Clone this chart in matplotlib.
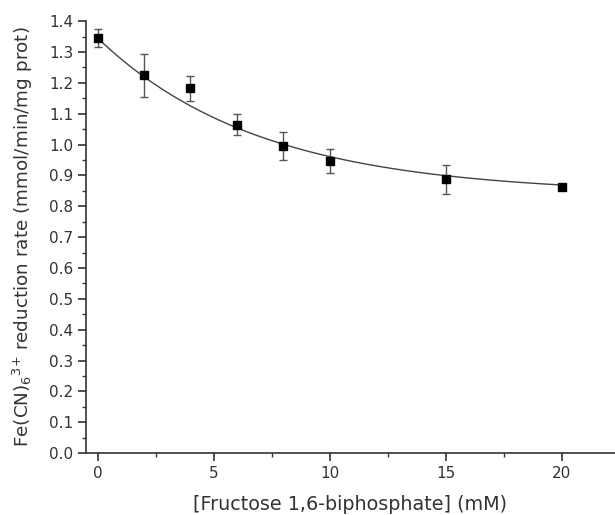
import numpy as np
import matplotlib
matplotlib.use('Agg')
import matplotlib.pyplot as plt
from matplotlib.ticker import MultipleLocator

# measured points
fbp_mm = [0, 2, 4, 6, 8, 10, 15, 20]
rate = [1.345, 1.225, 1.182, 1.065, 0.995, 0.947, 0.887, 0.862]
rate_err = [0.028, 0.070, 0.040, 0.035, 0.045, 0.039, 0.046, 0.010]

# exponential decay fit: y = y0 + A * exp(-x / t)
fit_y0 = 0.84
fit_A = 0.505
fit_t = 7.0

fig = plt.figure(figsize=(6.15, 5.15), dpi=100)
ax = fig.add_axes([0.14, 0.12, 0.86, 0.839])

xs = np.linspace(0, 20, 200)
ax.plot(xs, fit_y0 + fit_A * np.exp(-xs / fit_t), color='#444444', lw=1.0)

ax.errorbar(fbp_mm, rate, yerr=rate_err, fmt='s', color='black', ms=5.5,
            ecolor='#555555', elinewidth=1.0, capsize=2.8, capthick=1.0)

ax.set_xlim(-0.5, 22.3)
ax.set_ylim(0, 1.4)
ax.xaxis.set_major_locator(MultipleLocator(5))
ax.xaxis.set_minor_locator(MultipleLocator(2.5))
ax.yaxis.set_major_locator(MultipleLocator(0.1))
ax.yaxis.set_minor_locator(MultipleLocator(0.05))
ax.yaxis.set_major_formatter(matplotlib.ticker.FormatStrFormatter('%.1f'))

for side in ['top', 'right']:
    ax.spines[side].set_visible(False)
for side in ['left', 'bottom']:
    ax.spines[side].set_color('#333333')
    ax.spines[side].set_linewidth(1.2)

ax.tick_params(which='major', length=6, width=1.2, color='#333333', labelsize=11,
               labelcolor='#333333', pad=3)
ax.tick_params(which='minor', length=3, width=1.0, color='#333333')

ax.set_xlabel('[Fructose 1,6-biphosphate] (mM)', fontsize=13.8, color='#333333', labelpad=10)
ax.set_ylabel('Fe(CN)$_6$$^{3{+}}$ reduction rate (mmol/min/mg prot)', fontsize=13.2,
              color='#333333', labelpad=10)

fig.savefig('out.png', dpi=100)
